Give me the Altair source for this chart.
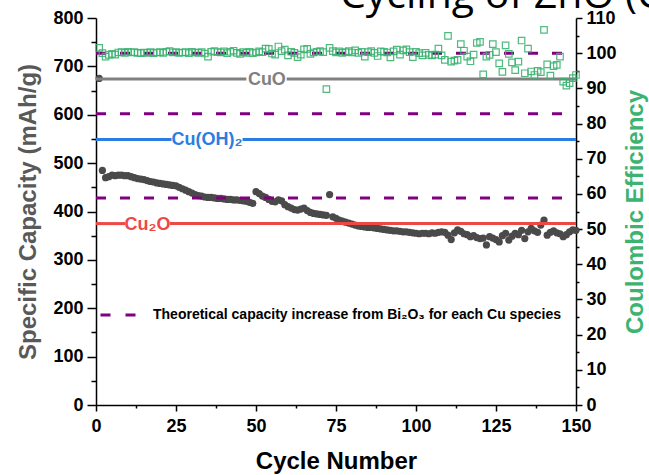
import altair as alt
import pandas as pd

cycles = list(range(1, 151))
capacity = [
    675, 485, 470, 472, 475, 474, 475, 475, 474, 474,
    472, 470, 468, 467, 466, 464, 462, 461, 459, 458,
    457, 456, 455, 454, 453, 450, 447, 444, 441, 438,
    435, 433, 432, 430, 429, 429, 428, 427, 427, 426,
    425, 425, 424, 424, 423, 422, 421, 419, 417, 441,
    437, 432, 429, 425, 421, 420, 424, 422, 414, 410,
    407, 404, 403, 405, 407, 402, 398, 396, 395, 394,
    393, 392, 435, 389, 386, 382, 380, 378, 376, 374,
    372, 370, 369, 368, 367, 367, 366, 365, 364, 363,
    362, 361, 360, 360, 359, 358, 358, 357, 356, 355,
    354, 355, 355, 354, 356, 355, 357, 358, 357, 351,
    342, 356, 362, 359, 354, 352, 348, 350, 346, 344,
    345, 331, 348, 345, 342, 337, 350, 355, 341, 349,
    355, 352, 361, 344, 358, 365, 360, 357, 372, 382,
    351, 357, 360, 356, 354, 348, 352, 358, 362, 361,
]
coulombic = [
    101.5, 100.0, 99.0, 99.5, 99.8, 99.6, 100.2, 100.3, 100.1, 100.4,
    100.2, 100.3, 100.1, 100.0, 100.2, 100.1, 100.3, 100.0, 100.2, 100.3,
    100.1, 100.4, 100.6, 100.2, 100.3, 100.1, 100.2, 100.3, 100.0, 100.4,
    100.2, 100.1, 100.3, 99.9, 99.0, 100.4, 100.6, 100.3, 100.2, 100.5,
    100.0, 100.4, 100.7, 100.1, 99.8, 100.3, 100.1, 100.4, 100.0, 100.2,
    100.5, 100.3, 101.3, 101.2, 99.9, 99.6, 101.9, 100.6, 101.0, 99.4,
    100.4, 100.1, 98.9, 99.6, 101.1, 101.2, 99.8, 100.2, 100.4, 100.6,
    100.3, 89.8, 101.5, 100.6, 100.2, 100.5, 100.1, 100.3, 100.6, 100.2,
    100.8, 100.1, 100.4, 99.0, 100.3, 100.6, 100.1, 99.2, 100.5, 100.4,
    100.2, 98.8, 100.5, 101.0, 99.6, 100.8, 101.1, 100.3, 98.9, 100.4,
    100.0, 99.4, 100.1, 99.5, 99.4, 99.6, 101.3, 99.4, 98.1, 104.9,
    97.6, 97.9, 98.1, 102.6, 100.7, 99.0, 97.7, 99.6, 102.9, 103.2,
    94.0, 99.0, 99.5, 102.6, 100.3, 97.1, 94.7, 102.2, 99.8, 97.4,
    95.2, 97.6, 103.6, 94.3, 101.3, 94.8, 93.8, 95.0, 94.6, 106.6,
    96.8, 93.6, 96.3, 96.7, 99.0, 91.9, 90.8, 91.5, 92.9, 93.8,
]

species = ["CuO", "Cu(OH)₂", "Cu₂O"]
theoretical = [674, 549, 375]
species_colors = ["#808080", "#2b7de0", "#ef4646"]
bi2o3_increase = 53
label_cycle = [53.4, 34.7, 16.1]
gap_start = [47.0, 23.6, 9.1]
gap_end = [59.6, 45.8, 23.1]
legend_text = "Theoretical capacity increase from Bi₂O₃ for each Cu species"
title_text = ["Cycling of ZnO (CuO)"]

FONT = "Liberation Sans, Arial, DejaVu Sans"

df_pts = pd.DataFrame({"cycle": cycles, "cap": capacity, "ce": coulombic})

seg_rows = []
for s, v, c, g0, g1 in zip(species, theoretical, species_colors, gap_start, gap_end):
    seg_rows.append({"x0": 0, "x1": g0, "y": v, "color": c})
    seg_rows.append({"x0": g1, "x1": 150, "y": v, "color": c})
df_seg = pd.DataFrame(seg_rows)

df_lab = pd.DataFrame({"x": label_cycle, "y": theoretical, "text": species, "color": species_colors})
df_dash = pd.DataFrame({"x0": [0] * 3, "x1": [150] * 3,
                        "y": [v + bi2o3_increase for v in theoretical],
                        "lab": [legend_text] * 3})
df_title = pd.DataFrame({"t": title_text})

x_axis = alt.Axis(values=[i * 12.5 for i in range(13)],
                  labelExpr="datum.value % 25 === 0 ? datum.label : ''",
                  tickSize={"condition": {"test": "datum.value % 25 === 0", "value": 6}, "value": 3},
                  title="Cycle Number", labelFlush=False, labelOverlap=False,
                  grid=False, labelPadding=6, titlePadding=14)
x_scale = alt.Scale(domain=[0, 150], nice=False)

y_axis = alt.Axis(values=list(range(0, 801, 50)),
                  labelExpr="datum.value % 100 === 0 ? datum.label : ''",
                  tickSize={"condition": {"test": "datum.value % 100 === 0", "value": 9}, "value": 5},
                  title="Specific Capacity (mAh/g)", titleColor="#595959",
                  labelOverlap=False, grid=False, labelPadding=4, titlePadding=12)
y_scale = alt.Scale(domain=[0, 800], nice=False)

y2_axis = alt.Axis(values=list(range(0, 111, 5)), orient="right",
                   labelExpr="datum.value % 10 === 0 ? datum.label : ''",
                   tickSize={"condition": {"test": "datum.value % 10 === 0", "value": 6}, "value": 3},
                   title="Coulombic Efficiency", titleColor="#3cb371", titleAngle=270,
                   labelOverlap=False, grid=False, labelPadding=4, titlePadding=31)
y2_scale = alt.Scale(domain=[0, 110], nice=False)

dots = alt.Chart(df_pts).mark_circle(size=52, color="#4a4a4a", opacity=1).encode(
    x=alt.X("cycle:Q", scale=x_scale, axis=x_axis),
    y=alt.Y("cap:Q", scale=y_scale, axis=y_axis),
)

segs = alt.Chart(df_seg).mark_rule(strokeWidth=3).encode(
    x=alt.X("x0:Q", scale=x_scale, axis=x_axis),
    x2="x1:Q",
    y=alt.Y("y:Q", scale=y_scale, axis=y_axis),
    color=alt.Color("color:N", scale=None),
)

dashes = alt.Chart(df_dash).mark_rule(strokeWidth=3, strokeDash=[10, 14]).encode(
    x=alt.X("x0:Q", scale=x_scale, axis=x_axis),
    x2="x1:Q",
    y=alt.Y("y:Q", scale=y_scale, axis=y_axis),
    color=alt.Color("lab:N", scale=alt.Scale(range=["#800080"]),
                    legend=alt.Legend(title=None, orient="none", legendX=3, legendY=278,
                                      symbolType="stroke", symbolSize=1225,
                                      symbolDash=[10, 15], symbolStrokeWidth=3,
                                      labelFont=FONT, labelFontSize=14, labelFontWeight="bold",
                                      labelColor="black", labelLimit=1000, labelOffset=16,
                                      padding=0)),
)

labels = alt.Chart(df_lab).mark_text(font=FONT, fontSize=18, fontWeight="bold",
                                     align="center", baseline="middle", dy=1).encode(
    x=alt.X("x:Q", scale=x_scale, axis=x_axis),
    y=alt.Y("y:Q", scale=y_scale, axis=y_axis),
    text="text:N",
    color=alt.Color("color:N", scale=None),
)

title_mark = alt.Chart(df_title).mark_text(font="Open Sans", fontSize=41, fontWeight="normal",
                                           align="left", baseline="alphabetic",
                                           color="black").encode(
    x=alt.value(244), y=alt.value(-10), text="t:N",
)

left = alt.layer(dots, segs, dashes, labels, title_mark)

squares = alt.Chart(df_pts).mark_point(shape="square", size=42, filled=False,
                                       color="#3cb371", strokeWidth=1.2, opacity=0.9).encode(
    x=alt.X("cycle:Q", scale=x_scale, axis=x_axis),
    y=alt.Y("ce:Q", scale=y2_scale, axis=y2_axis),
)

chart = alt.layer(left, squares).resolve_scale(y="independent").properties(
    width=480, height=387,
    autosize=alt.AutoSizeParams(type="none"),
    padding={"left": 96, "top": 18, "right": 73, "bottom": 70},
).configure_view(strokeWidth=0).configure_axis(
    labelFont=FONT, labelFontSize=18, labelFontWeight="bold", labelColor="black",
    titleFont=FONT, titleFontSize=24, titleFontWeight="bold",
    domainColor="black", domainWidth=1.5, tickColor="black", tickWidth=1.5,
).configure_axisX(titleColor="black")

chart.save("out.html", embed_options={"renderer": "svg", "actions": False})
